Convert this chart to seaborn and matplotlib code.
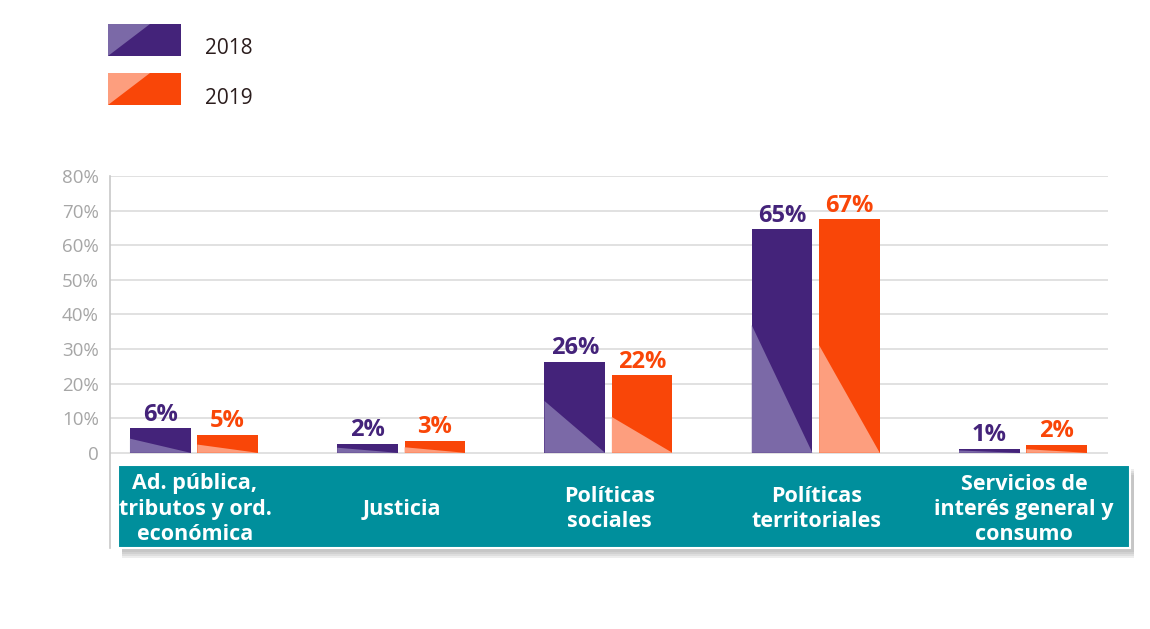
import pandas as pd
import seaborn as sns
import matplotlib.pyplot as plt
from matplotlib.patches import Polygon, Rectangle

# data
categories = ["Ad. pública,\ntributos y ord.\neconómica", "Justicia",
              "Políticas\nsociales", "Políticas\nterritoriales",
              "Servicios de\ninterés general y\nconsumo"]
years = ["2018", "2019"]
values_2018 = [7.2, 2.6, 26.3, 64.7, 1.2]
values_2019 = [5.2, 3.5, 22.5, 67.6, 2.3]
labels_2018 = ["6%", "2%", "26%", "65%", "1%"]
labels_2019 = ["5%", "3%", "22%", "67%", "2%"]
yticks = [0, 10, 20, 30, 40, 50, 60, 70, 80]
ytick_labels = ["0", "10%", "20%", "30%", "40%", "50%", "60%", "70%", "80%"]

dark = {"2018": "#44237a", "2019": "#f94608"}
light = {"2018": "#7b69a7", "2019": "#fd9e7e"}
shade = {"2018": 0.57, "2019": 0.46}
teal = "#008f9c"

df = pd.DataFrame({
    "cat": list(range(len(categories))) * 2,
    "year": ["2018"] * len(categories) + ["2019"] * len(categories),
    "value": values_2018 + values_2019,
})

sns.set_style("white")
plt.rcParams['font.family'] = ['Open Sans', 'DejaVu Sans']

fig = plt.figure(figsize=(11.5, 6.29), dpi=100)
W, H = 1150, 629
ax = fig.add_axes([110 / W, (H - 548) / H, (1108 - 110) / W, (548 - 176) / H])

sns.barplot(data=df, x="cat", y="value", hue="year", hue_order=years,
            palette=dark, saturation=1, width=0.65, gap=0.1,
            linewidth=0, legend=False, ax=ax)

ax.set_xlim(-0.405, 4.41)
ax.set_ylim(-27.5, 80)
ax.set_xlabel("")
ax.set_ylabel("")
ax.set_xticks([])
ax.set_yticks(yticks)
ax.set_yticklabels(ytick_labels, color="#a6a6a6", fontsize=13.5)
ax.tick_params(axis="y", length=0, pad=8)
for s in ["top", "right", "bottom"]:
    ax.spines[s].set_visible(False)
ax.spines["left"].set_color("#c8c8c8")
ax.spines["left"].set_linewidth(1.2)
for t in yticks:
    ax.axhline(t, color="#d9d9d9", lw=1.1, zorder=0)

# lighter triangle in the lower left of each bar, and the value labels
bar_labels = {"2018": labels_2018, "2019": labels_2019}
for year, cont in zip(years, ax.containers):
    for rect in cont:
        x, w, h = rect.get_x(), rect.get_width(), rect.get_height()
        ax.add_patch(Polygon([(x, 0), (x, h * shade[year]), (x + w, 0)],
                             closed=True, color=light[year], lw=0, zorder=3))
    ax.bar_label(cont, labels=bar_labels[year], padding=1, color=dark[year],
                 fontsize=17, fontweight="bold")

# category band below the axis, with a soft shadow
for off in [10, 8, 6, 4]:
    fig.add_artist(Rectangle(((118 + 4) / W, (H - 548 - off) / H), (1130 - 118) / W,
                             (548 - 465) / H, transform=fig.transFigure,
                             color="#8a8a8a", alpha=0.15, lw=0))
fig.add_artist(Rectangle((118 / W, (H - 548) / H), (1130 - 118) / W,
                         (548 - 465) / H, transform=fig.transFigure,
                         facecolor=teal, edgecolor="white", lw=1.5))
for i, cat in enumerate(categories):
    xf = fig.transFigure.inverted().transform(ax.transData.transform((i, 0)))[0]
    fig.text(xf + 1 / W, (H - 509) / H, cat, ha="center", va="center",
             color="white", fontsize=15.5, fontweight="bold", linespacing=1.25)

# legend
for k, year in enumerate(years):
    y0 = 24 + k * 49
    x0, x1 = 108, 181
    y1 = y0 + 32
    fig.add_artist(Rectangle((x0 / W, (H - y1) / H), (x1 - x0) / W, (y1 - y0) / H,
                             transform=fig.transFigure, color=dark[year], lw=0))
    fig.add_artist(Polygon([(x0 / W, (H - y0) / H), (150 / W, (H - y0) / H),
                            (x0 / W, (H - y1) / H)],
                           closed=True, transform=fig.transFigure,
                           color=light[year], lw=0))
    fig.text(205 / W, (H - (y0 + 25)) / H, year, ha="left", va="center",
             color="#2b1d1d", fontsize=15)

fig.savefig("out.png", dpi=100, facecolor="white")
